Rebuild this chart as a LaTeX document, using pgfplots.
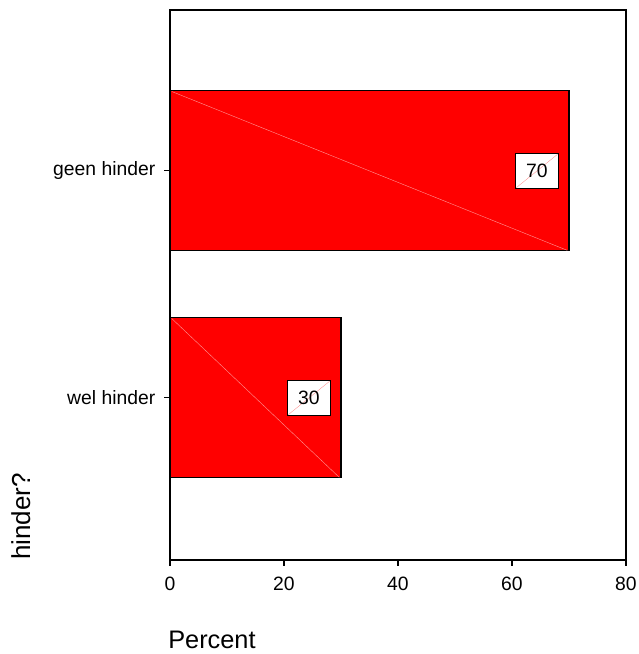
\documentclass[border=0pt]{standalone}
\usepackage{pgfplots}
\pgfplotsset{compat=1.18}
\usepackage{fontspec}
\setmainfont{Liberation Sans}
\definecolor{diag}{RGB}{255,150,150}
\begin{document}
\begin{tikzpicture}
\path[use as bounding box] (0,0) rectangle (479.25bp,490.5bp);
\begin{axis}[
  at={(127.5bp,70.5bp)}, anchor=south west,
  scale only axis, width=342bp, height=412.5bp,
  xmin=0, xmax=80, xtick={0,20,40,60,80},
  ymin=0.286, ymax=2.709,
  ytick={1,2}, yticklabels={wel hinder, geen hinder},
  tick align=outside, xtick pos=bottom, ytick pos=left,
  major tick length=4.5bp,
  axis line style={line width=0.9pt},
  every tick/.style={black, line width=0.8pt},
  tick label style={font=\fontsize{14.5bp}{17bp}\selectfont},
  /pgf/number format/assume math mode=true,
  xticklabel style={yshift=-5bp},
  yticklabel style={xshift=-3bp},
  clip=false,
]
\addplot[xbar, bar width=0.705, fill=red, draw=black, line width=0.8pt,
  point meta=x, nodes near coords,
  every node near coord/.append style={anchor=east, xshift=-7.5bp, draw=black, fill=white,
    line width=0.9pt, font=\fontsize{14.5bp}{17bp}\selectfont, inner xsep=8bp,
    minimum height=26bp,
    path picture={\draw[diag, line width=0.2pt] (path picture bounding box.south west) -- (path picture bounding box.north east);}}]
  coordinates {(70,2) (30,1)};
\addplot[diag, line width=0.3pt] coordinates {(0.3,2.35) (69.7,1.65)};
\addplot[diag, line width=0.3pt] coordinates {(0.3,1.35) (29.7,0.65)};
\end{axis}
\node[anchor=base west, inner sep=0, font=\fontsize{19bp}{23bp}\selectfont] at (126bp,4.5bp) {Percent};
\node[anchor=base west, inner sep=0, rotate=90, font=\fontsize{19.5bp}{23bp}\selectfont] at (22.5bp,70.5bp) {hinder?};
\end{tikzpicture}
\end{document}
